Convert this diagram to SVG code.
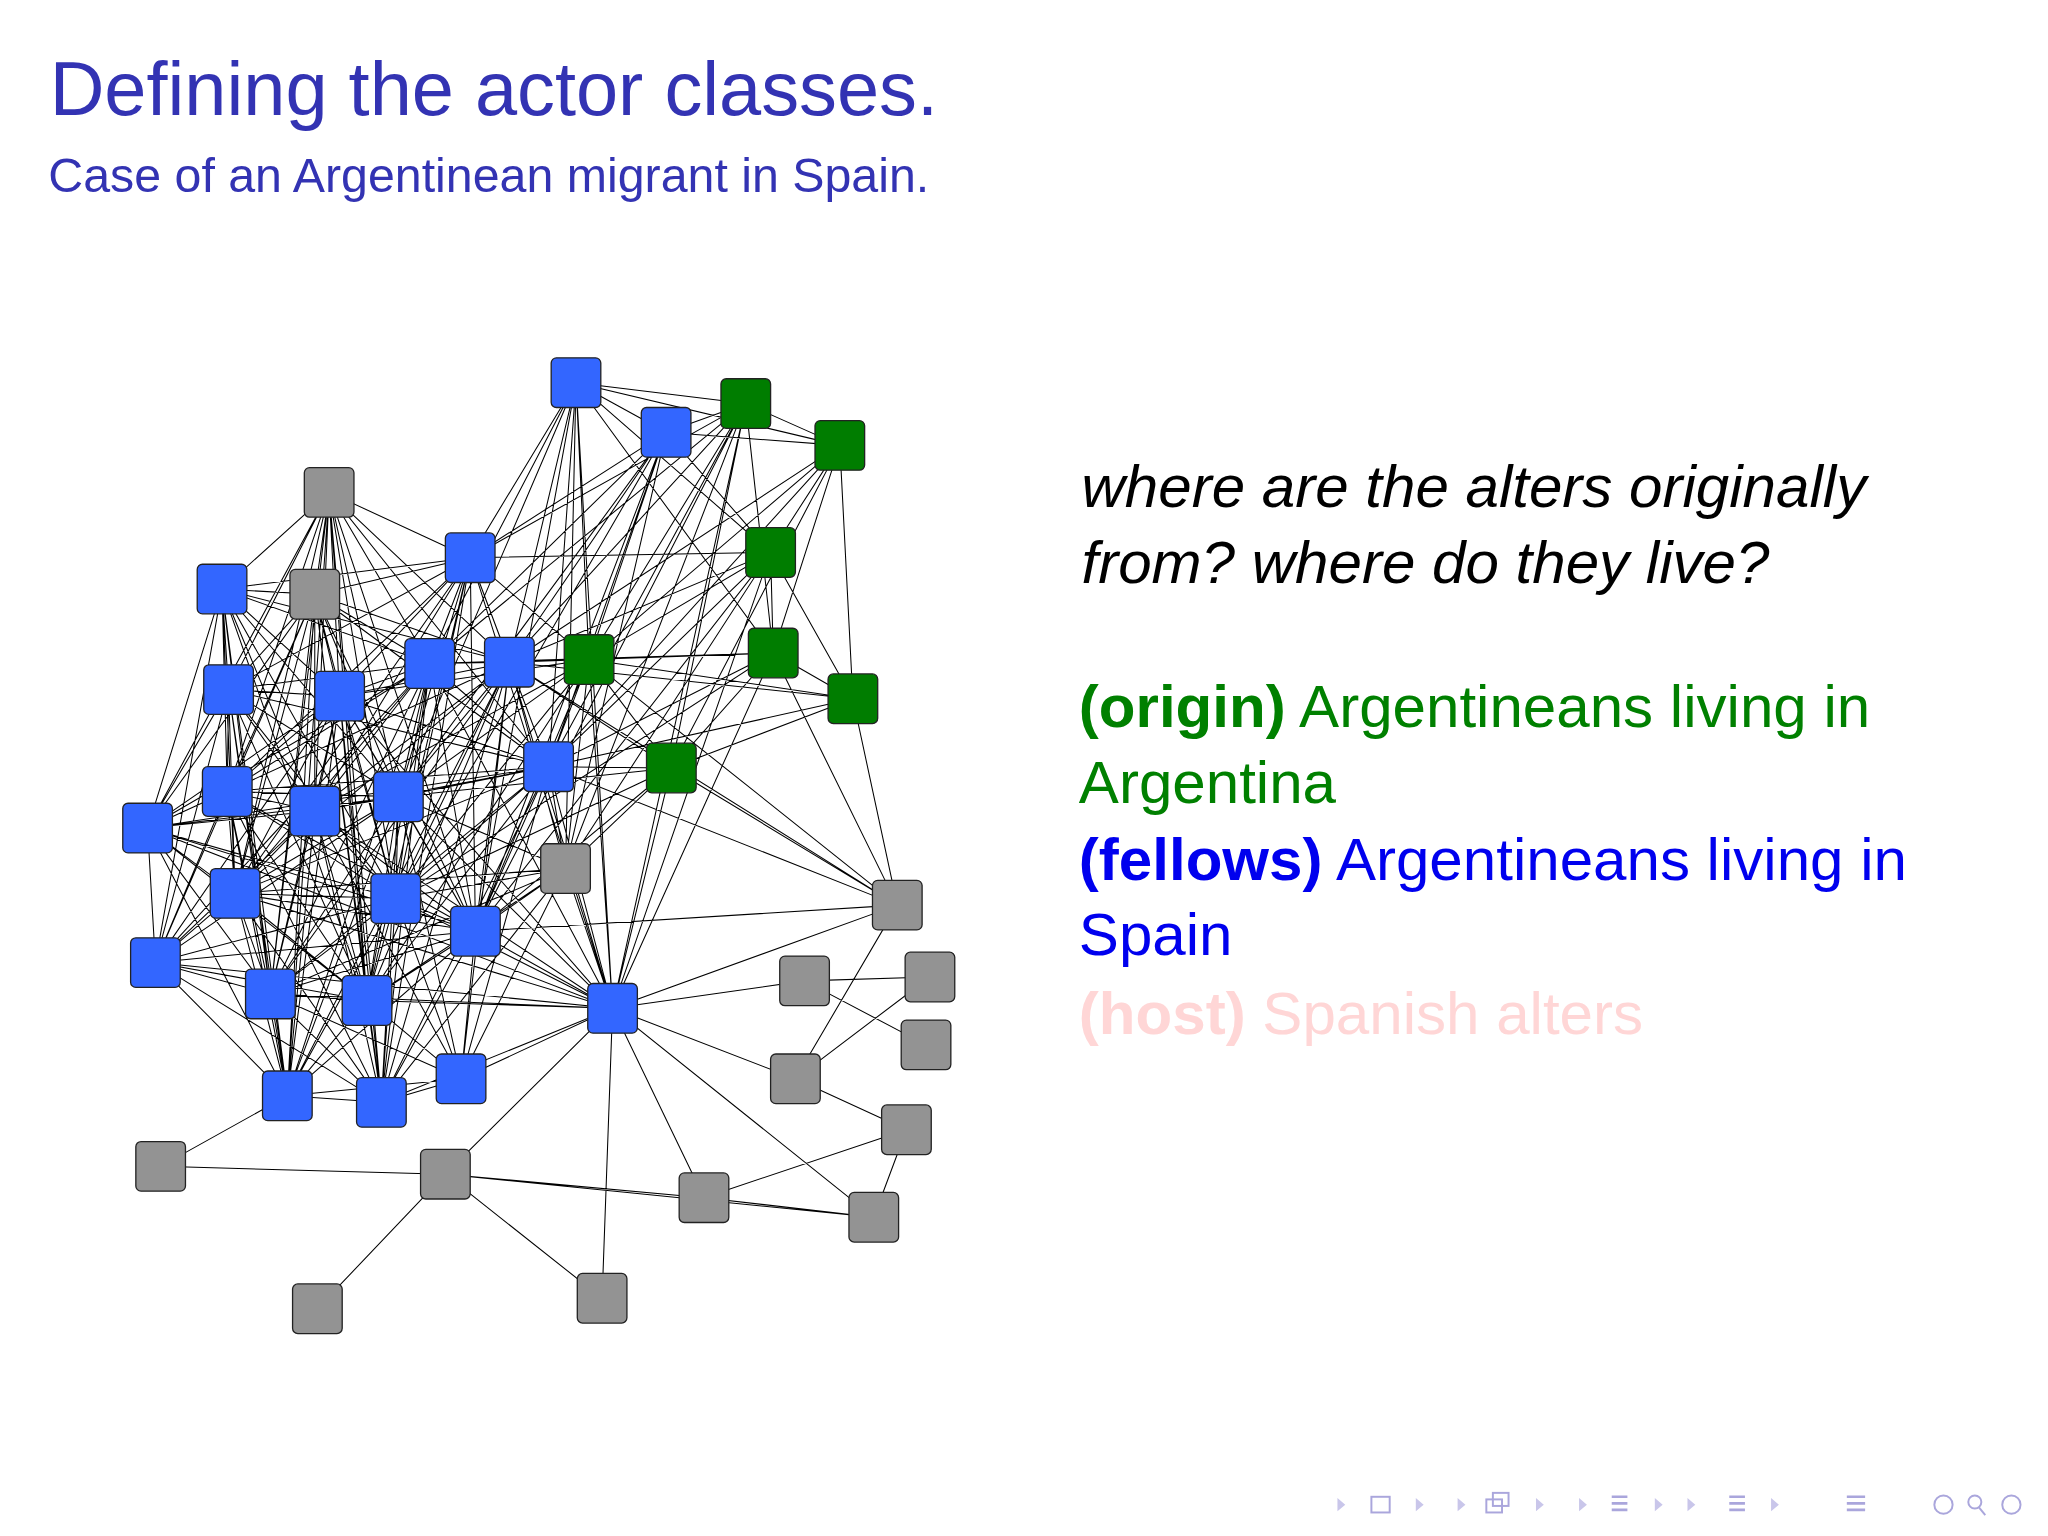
<svg xmlns="http://www.w3.org/2000/svg" width="2048" height="1536" viewBox="0 0 2048 1536">
<style>
.e{stroke:#000;stroke-width:0.8;fill:none}
.n rect{width:38px;height:38px;rx:4px;stroke:#222;stroke-width:1}
.b rect{fill:#3366ff}.g rect{fill:#007d00}.y rect{fill:#939393}
text{font-family:"Liberation Sans",Arial,sans-serif}
.nav{fill:#c9c6ea}
</style>
<rect width="2048" height="1536" fill="#fff"/>
<g transform="scale(1.3061)">
<text x="38" y="88" font-size="58" fill="#3333b3">Defining the actor classes.</text>
<text x="37" y="147" font-size="37" fill="#3333b3">Case of an Argentinean migrant in Spain.</text>
<g font-size="46">
<text x="828" y="388" font-style="italic" fill="#000">where are the alters originally</text>
<text x="828" y="446" font-style="italic" fill="#000">from? where do they live?</text>
<text x="826" y="557" fill="#008000"><tspan font-weight="bold">(origin)</tspan> Argentineans living in</text>
<text x="826" y="615" fill="#008000">Argentina</text>
<text x="826" y="674" fill="#0000ee"><tspan font-weight="bold">(fellows)</tspan> Argentineans living in</text>
<text x="826" y="731" fill="#0000ee">Spain</text>
<text x="826" y="792" fill="#ffd6d6"><tspan font-weight="bold">(host)</tspan> Spanish alters</text>
</g>
<g id="connectors">
<path class="e" d="M252,377L170,451M252,377L175,528M252,377L260,533M252,377L329,508M252,377L390,507M252,377L360,427M252,377L174,606M252,377L241,621M252,377L305,610M252,377L180,684M252,377L303,688M252,377L364,713M252,377L207,761M252,377L281,766M252,377L220,839M252,377L292,844M252,377L420,587M252,377L241,455M252,377L113,634
M441,293L571,309M441,293L643,341M441,293L510,331M441,293L360,427M441,293L390,507M441,293L451,505M441,293L420,587M441,293L433,665M441,293L469,772M441,293L329,508M441,293L590,423M441,293L364,713M441,293L592,500M441,293L305,610
M510,331L571,309M510,331L643,341M510,331L390,507M510,331L451,505M510,331L420,587M510,331L329,508M510,331L360,427M510,331L590,423M510,331L364,713M510,331L303,688M510,331L305,610M510,331L433,665
M571,309L643,341M571,309L360,427M571,309L390,507M571,309L451,505M571,309L420,587M571,309L592,500M571,309L469,772M571,309L433,665M571,309L364,713M571,309L514,588M571,309L329,508
M643,341L590,423M643,341L592,500M643,341L653,535M643,341L451,505M643,341L420,587M643,341L514,588M643,341L390,507
M590,423L360,427M590,423L451,505M590,423L420,587M590,423L390,507M590,423L592,500M590,423L653,535M590,423L469,772M590,423L433,665M590,423L364,713
M592,500L451,505M592,500L420,587M592,500L653,535M592,500L390,507M592,500L329,508M592,500L469,772M592,500L514,588M592,500L303,688
M653,535L451,505M653,535L514,588M653,535L420,587M653,535L687,693M653,535L390,507
M514,588L420,587M514,588L451,505M514,588L469,772M514,588L364,713M514,588L305,610M514,588L433,665M514,588L390,507M514,588L303,688M514,588L687,693
M451,505L390,507M451,505L329,508M451,505L420,587M451,505L469,772M451,505L305,610M451,505L364,713M451,505L303,688M451,505L360,427M451,505L433,665M451,505L260,533M451,505L241,621M451,505L281,766
M360,427L170,451M360,427L329,508M360,427L390,507M360,427L420,587M360,427L260,533M360,427L175,528M360,427L241,621M360,427L305,610M360,427L303,688M360,427L364,713M360,427L281,766M360,427L469,772M360,427L292,844M360,427L241,455M360,427L174,606M360,427L180,684
M170,451L175,528M170,451L260,533M170,451L174,606M170,451L241,621M170,451L113,634M170,451L180,684M170,451L119,737M170,451L207,761M170,451L305,610M170,451L329,508M170,451L303,688M170,451L220,839M170,451L241,455M170,451L390,507M170,451L281,766
M241,455L175,528M241,455L260,533M241,455L329,508M241,455L390,507M241,455L174,606M241,455L241,621M241,455L305,610M241,455L113,634M241,455L180,684M241,455L303,688M241,455L364,713M241,455L207,761M241,455L281,766M241,455L220,839M241,455L292,844M241,455L420,587M241,455L119,737
M175,528L260,533M175,528L329,508M175,528L174,606M175,528L241,621M175,528L113,634M175,528L180,684M175,528L119,737M175,528L207,761M175,528L281,766M175,528L305,610M175,528L303,688M175,528L220,839M175,528L420,587
M260,533L329,508M260,533L390,507M260,533L174,606M260,533L241,621M260,533L305,610M260,533L113,634M260,533L180,684M260,533L303,688M260,533L364,713M260,533L119,737M260,533L207,761M260,533L281,766M260,533L220,839M260,533L292,844M260,533L420,587M260,533L469,772
M329,508L390,507M329,508L420,587M329,508L174,606M329,508L241,621M329,508L305,610M329,508L180,684M329,508L303,688M329,508L364,713M329,508L207,761M329,508L281,766M329,508L220,839M329,508L292,844M329,508L469,772M329,508L113,634M329,508L119,737
M390,507L420,587M390,507L241,621M390,507L305,610M390,507L303,688M390,507L364,713M390,507L281,766M390,507L469,772M390,507L292,844M390,507L174,606M390,507L180,684M390,507L207,761M390,507L220,839M390,507L353,826M390,507L433,665
M420,587L241,621M420,587L305,610M420,587L303,688M420,587L364,713M420,587L281,766M420,587L469,772M420,587L292,844M420,587L353,826M420,587L433,665M420,587L180,684M420,587L207,761M420,587L174,606M420,587L113,634
M174,606L241,621M174,606L305,610M174,606L113,634M174,606L180,684M174,606L303,688M174,606L119,737M174,606L207,761M174,606L281,766M174,606L220,839M174,606L292,844M174,606L364,713
M241,621L305,610M241,621L113,634M241,621L180,684M241,621L303,688M241,621L364,713M241,621L119,737M241,621L207,761M241,621L281,766M241,621L220,839M241,621L292,844M241,621L353,826M241,621L469,772
M305,610L113,634M305,610L180,684M305,610L303,688M305,610L364,713M305,610L119,737M305,610L207,761M305,610L281,766M305,610L220,839M305,610L292,844M305,610L353,826M305,610L469,772M305,610L433,665
M113,634L180,684M113,634L119,737M113,634L207,761M113,634L303,688M113,634L220,839M113,634L281,766M113,634L364,713M113,634L469,772
M180,684L303,688M180,684L119,737M180,684L207,761M180,684L281,766M180,684L220,839M180,684L292,844M180,684L364,713M180,684L469,772
M303,688L364,713M303,688L119,737M303,688L207,761M303,688L281,766M303,688L220,839M303,688L292,844M303,688L353,826M303,688L469,772M303,688L433,665
M364,713L207,761M364,713L281,766M364,713L469,772M364,713L220,839M364,713L292,844M364,713L353,826M364,713L433,665M364,713L119,737
M119,737L207,761M119,737L220,839M119,737L281,766M119,737L292,844M119,737L469,772
M207,761L281,766M207,761L220,839M207,761L292,844M207,761L353,826M207,761L469,772
M281,766L220,839M281,766L292,844M281,766L353,826M281,766L469,772
M469,772L292,844M469,772L353,826M469,772L433,665M469,772L687,693M469,772L616,751M469,772L609,826M469,772L341,899M469,772L539,917M469,772L669,932M469,772L461,994M469,772L360,427
M220,839L292,844M220,839L353,826M292,844L353,826
M433,665L281,766M433,665L292,844M433,665L353,826M433,665L180,684M433,665L207,761
M687,693L420,587M687,693L451,505M687,693L592,500M687,693L390,507M687,693L609,826M687,693L364,713
M616,751L712,748M609,826L712,748M609,826L694,865M694,865L539,917M694,865L669,932M539,917L669,932M341,899L539,917M341,899L669,932M123,893L341,899M123,893L220,839M341,899L243,1002M341,899L461,994M709,800L616,751"/>
</g>
<g id="nodes">
<g class="n b" id="B1"><rect x="422" y="274"/></g>
<g class="n b" id="B2"><rect x="491" y="312"/></g>
<g class="n b" id="B3"><rect x="341" y="408"/></g>
<g class="n b" id="B4"><rect x="151" y="432"/></g>
<g class="n b" id="B5"><rect x="156" y="509"/></g>
<g class="n b" id="B6"><rect x="241" y="514"/></g>
<g class="n b" id="B7"><rect x="310" y="489"/></g>
<g class="n b" id="B8"><rect x="371" y="488"/></g>
<g class="n b" id="B9"><rect x="401" y="568"/></g>
<g class="n b" id="B10"><rect x="155" y="587"/></g>
<g class="n b" id="B11"><rect x="222" y="602"/></g>
<g class="n b" id="B12"><rect x="286" y="591"/></g>
<g class="n b" id="B13"><rect x="94" y="615"/></g>
<g class="n b" id="B14"><rect x="161" y="665"/></g>
<g class="n b" id="B15"><rect x="284" y="669"/></g>
<g class="n b" id="B16"><rect x="345" y="694"/></g>
<g class="n b" id="B17"><rect x="100" y="718"/></g>
<g class="n b" id="B18"><rect x="188" y="742"/></g>
<g class="n b" id="B19"><rect x="262" y="747"/></g>
<g class="n b" id="B20"><rect x="450" y="753"/></g>
<g class="n b" id="B21"><rect x="201" y="820"/></g>
<g class="n b" id="B22"><rect x="273" y="825"/></g>
<g class="n b" id="B23"><rect x="334" y="807"/></g>
<g class="n g" id="G1"><rect x="552" y="290"/></g>
<g class="n g" id="G2"><rect x="624" y="322"/></g>
<g class="n g" id="G3"><rect x="571" y="404"/></g>
<g class="n g" id="G4"><rect x="432" y="486"/></g>
<g class="n g" id="G5"><rect x="573" y="481"/></g>
<g class="n g" id="G6"><rect x="634" y="516"/></g>
<g class="n g" id="G7"><rect x="495" y="569"/></g>
<g class="n y" id="Y1"><rect x="233" y="358"/></g>
<g class="n y" id="Y2"><rect x="222" y="436"/></g>
<g class="n y" id="Y3"><rect x="414" y="646"/></g>
<g class="n y" id="Y4"><rect x="668" y="674"/></g>
<g class="n y" id="Y5"><rect x="597" y="732"/></g>
<g class="n y" id="Y6"><rect x="693" y="729"/></g>
<g class="n y" id="Y7"><rect x="690" y="781"/></g>
<g class="n y" id="Y8"><rect x="590" y="807"/></g>
<g class="n y" id="Y9"><rect x="675" y="846"/></g>
<g class="n y" id="Y10"><rect x="104" y="874"/></g>
<g class="n y" id="Y11"><rect x="322" y="880"/></g>
<g class="n y" id="Y12"><rect x="520" y="898"/></g>
<g class="n y" id="Y13"><rect x="650" y="913"/></g>
<g class="n y" id="Y14"><rect x="224" y="983"/></g>
<g class="n y" id="Y15"><rect x="442" y="975"/></g>
</g>
<g id="navigation" class="nav">
<path d="M1030,1152l-6,-5v10zM1084,1147l6,5l-6,5zM1122,1152l-6,-5v10zM1176,1147l6,5l-6,5zM1215,1152l-6,-5v10zM1267,1147l6,5l-6,5zM1298,1152l-6,-5v10zM1356,1147l6,5l-6,5z"/>
<rect x="1050" y="1146" width="14" height="12" fill="none" stroke="#aaa6dc" stroke-width="1.5"/>
<rect x="1138" y="1148" width="12" height="10" fill="none" stroke="#aaa6dc" stroke-width="1.5"/>
<rect x="1143" y="1143" width="12" height="10" fill="none" stroke="#aaa6dc" stroke-width="1.5"/>
<path d="M1234,1145h12v2h-12zM1234,1150h12v2h-12zM1234,1155h12v2h-12zM1324,1145h12v2h-12zM1324,1150h12v2h-12zM1324,1155h12v2h-12zM1414,1145h14v2h-14zM1414,1150h14v2h-14zM1414,1155h14v2h-14z" fill="#aaa6dc"/>
<circle cx="1488" cy="1152" r="7" fill="none" stroke="#aaa6dc" stroke-width="1.5"/>
<circle cx="1512" cy="1150" r="5" fill="none" stroke="#aaa6dc" stroke-width="1.5"/>
<path d="M1515,1154l5,6" stroke="#aaa6dc" stroke-width="1.5"/>
<circle cx="1540" cy="1152" r="7" fill="none" stroke="#aaa6dc" stroke-width="1.5"/>
</g>
</g>
</svg>
